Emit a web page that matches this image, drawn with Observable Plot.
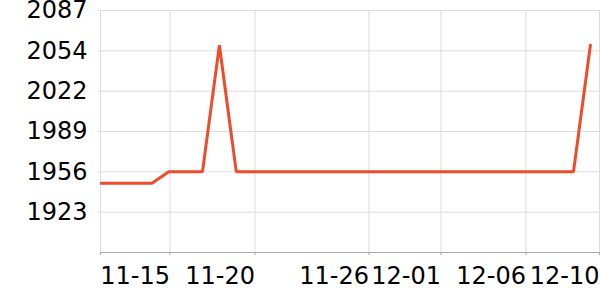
<!DOCTYPE html>
<html><head><meta charset="utf-8">
<script src="https://cdn.jsdelivr.net/npm/d3@7"></script>
<script src="https://cdn.jsdelivr.net/npm/@observablehq/plot@0.6"></script>
<style>body{margin:0;background:#fff}</style>
</head><body><div id="chart"></div>
<script>
const dates = ["11-11","11-12","11-13","11-14","11-15","11-16","11-17","11-18","11-19","11-20",
  "11-21","11-22","11-23","11-24","11-25","11-26","11-27","11-28","11-29","11-30",
  "12-01","12-02","12-03","12-04","12-05","12-06","12-07","12-08","12-09","12-10"];
const values = [1946.5,1946.5,1946.5,1946.5,1956,1956,1956,2059,1956,1956,
  1956,1956,1956,1956,1956,1956,1956,1956,1956,1956,
  1956,1956,1956,1956,1956,1956,1956,1956,1956,2059];
const xTickDays = [4.07, 9.11, 15.87, 20.14, 25.18, 29.54];
const xTickLabels = ["11-15","11-20","11-26","12-01","12-06","12-10"];
const yTickValues = [1923.0, 1955.85, 1988.7, 2021.55, 2054.4, 2087.25];
const yTickLabels = ["1923","1956","1989","2022","2054","2087"];
const xDomain = [-0.05, 29.6];
const yDomain = [1890.15, 2087.25];

const data = dates.map((d, i) => ({day: i, date: d, value: values[i]}));
const xAxisTicks = [xDomain[0], ...xTickDays];

const chart = Plot.plot({
  width: 600, height: 300,
  marginLeft: 100, marginRight: 0, marginTop: 10, marginBottom: 48,
  style: {fontFamily: "DejaVu Sans", fontSize: "24px", background: "#fff", overflow: "visible"},
  x: {domain: xDomain, label: null},
  y: {domain: yDomain, label: null},
  marks: [
    Plot.gridY(yTickValues, {stroke: "#dddddd", strokeOpacity: 1}),
    Plot.gridX(xTickDays, {stroke: "#dddddd", strokeOpacity: 1}),
    Plot.frame({anchor: "left", stroke: "#dddddd"}),
    Plot.axisY(yTickValues, {tickSize: 2, tickPadding: 11, stroke: "#dddddd", fontSize: 24, label: null,
      tickFormat: d => yTickLabels[yTickValues.indexOf(d)]}),
    Plot.frame({anchor: "bottom", stroke: "#aaaaaa"}),
    Plot.axisX(xAxisTicks, {tickSize: 3, tickPadding: 11, stroke: "#aaaaaa", fontSize: 24, textAnchor: "end", label: null,
      tickFormat: d => { const k = xTickDays.indexOf(d); return k < 0 ? "" : xTickLabels[k]; }}),
    Plot.line(data, {x: "day", y: "value", stroke: "#ee4b2b", strokeWidth: 3, strokeLinejoin: "miter", clip: true})
  ]
});
document.getElementById("chart").append(chart);
</script>
</body></html>
